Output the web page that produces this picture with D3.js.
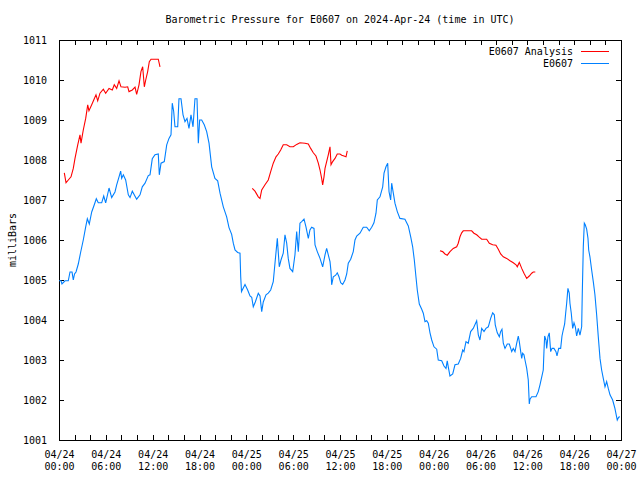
<!DOCTYPE html>
<html>
<head>
<meta charset="utf-8">
<script src="https://cdn.jsdelivr.net/npm/d3@7"></script>
<style>
  html, body { margin: 0; padding: 0; background: #fff; }
  svg { display: block; }
  text { font-family: "DejaVu Sans Mono", "Liberation Mono", monospace; font-size: 10px; fill: #000; }
</style>
</head>
<body>
<svg id="chart" width="640" height="480"></svg>
<script>
// ---- data (hours since 2024-04-24 00:00 UTC, pressure in mbar) ----
const chartTitle = "Barometric Pressure for E0607 on 2024-Apr-24 (time in UTC)";
const yLabel = "milliBars";
const seriesNames = ["E0607 Analysis", "E0607"];
const yTicks = [1001, 1002, 1003, 1004, 1005, 1006, 1007, 1008, 1009, 1010, 1011];

const obsHours = [0.00,0.26,0.38,0.77,1.19,1.41,1.67,1.83,1.99,2.18,2.47,2.78,3.11,3.42,3.63,3.88,4.19,4.52,4.78,5.03,5.47,5.73,5.98,6.41,6.75,7.17,7.39,7.69,7.90,8.03,8.24,8.54,8.88,9.10,9.39,9.95,10.38,10.67,11.02,11.44,11.66,11.95,12.30,12.72,12.85,13.07,13.49,13.80,14.09,14.35,14.51,14.69,14.86,15.21,15.37,15.63,15.89,16.14,16.40,16.65,16.91,17.17,17.42,17.68,17.85,18.02,18.28,18.61,18.92,19.22,19.56,19.98,20.33,20.63,21.05,21.48,21.78,22.12,22.33,22.55,22.89,23.19,23.28,23.38,23.83,24.17,24.47,24.69,24.89,25.15,25.53,25.75,25.97,26.17,26.52,26.81,27.12,27.45,27.67,27.97,28.22,28.44,28.73,28.95,29.17,29.37,29.59,29.94,30.23,30.45,30.66,30.87,31.09,31.39,31.64,31.94,32.15,32.37,32.67,32.80,33.09,33.44,33.78,34.08,34.29,34.50,34.72,34.85,34.93,35.14,35.45,35.65,35.87,36.09,36.34,36.64,36.86,37.06,37.37,37.70,37.92,38.14,38.56,38.98,39.42,39.75,40.06,40.35,40.61,40.78,41.12,41.47,41.64,41.89,42.11,42.28,42.49,42.62,42.83,43.04,43.34,43.68,44.32,44.75,45.06,45.31,45.52,45.73,45.90,46.16,46.47,46.67,46.89,47.11,47.31,47.53,47.75,48.04,48.39,48.59,49.03,49.32,49.58,49.74,49.87,50.09,50.44,50.73,51.15,51.46,51.72,51.88,52.14,52.43,52.74,53.07,53.51,53.72,53.93,54.15,54.45,54.70,55.00,55.30,55.56,55.77,55.89,56.15,56.41,56.58,56.75,56.92,57.14,57.43,57.69,57.87,58.00,58.20,58.42,58.64,58.84,58.97,59.15,59.28,59.40,59.57,59.70,59.92,60.12,60.25,60.34,60.56,61.11,61.40,61.62,61.84,62.04,62.13,62.22,62.39,62.48,62.64,62.81,62.99,63.16,63.41,63.67,63.80,64.02,64.27,64.44,64.60,64.78,64.91,65.04,65.20,65.37,65.46,65.63,65.81,65.98,66.15,66.32,66.53,66.74,66.96,67.04,67.17,67.30,67.42,67.60,67.77,67.86,68.02,68.24,68.45,68.66,68.88,69.09,69.31,69.52,69.73,69.95,70.16,70.37,70.59,70.93,71.22,71.52,71.70,71.87];
const obsPressure = [1004.98,1004.98,1004.9,1004.98,1004.98,1005.2,1005.2,1005.0,1005.15,1005.2,1005.4,1005.7,1006.0,1006.33,1006.53,1006.4,1006.7,1006.88,1007.03,1006.93,1006.93,1007.1,1006.93,1007.3,1007.06,1007.2,1007.38,1007.58,1007.72,1007.54,1007.63,1007.5,1007.13,1007.06,1007.22,1007.02,1007.13,1007.33,1007.42,1007.61,1007.63,1008.03,1008.13,1008.15,1007.63,1007.92,1007.96,1008.38,1008.54,1008.63,1009.42,1009.22,1008.83,1008.83,1009.53,1009.53,1009.13,1008.96,1009.04,1008.79,1009.13,1008.83,1009.53,1009.53,1008.42,1009.0,1009.0,1008.88,1008.71,1008.42,1007.83,1007.54,1007.48,1007.17,1006.83,1006.58,1006.31,1006.14,1005.92,1005.75,1005.69,1005.67,1005.08,1004.71,1004.89,1004.75,1004.6,1004.57,1004.33,1004.45,1004.67,1004.6,1004.21,1004.45,1004.63,1004.67,1004.75,1004.96,1005.42,1006.04,1005.33,1005.5,1005.67,1006.13,1005.92,1005.54,1005.29,1005.21,1005.63,1006.21,1005.71,1006.42,1006.46,1006.52,1006.33,1006.04,1006.25,1006.32,1006.29,1005.88,1005.71,1005.54,1005.33,1005.63,1005.79,1005.63,1005.46,1005.21,1004.88,1005.08,1005.12,1005.18,1005.08,1004.93,1004.89,1005.0,1005.15,1005.42,1005.52,1005.71,1006.0,1006.1,1006.17,1006.32,1006.32,1006.23,1006.32,1006.43,1006.67,1007.0,1007.08,1007.33,1007.67,1007.83,1007.92,1007.21,1007.0,1007.42,1007.17,1006.92,1006.71,1006.54,1006.52,1006.35,1006.08,1005.83,1005.5,1005.08,1004.75,1004.4,1004.27,1004.17,1003.96,1003.98,1003.92,1003.68,1003.5,1003.33,1003.27,1003.0,1002.98,1002.85,1002.79,1002.98,1002.83,1002.6,1002.65,1002.88,1002.9,1003.04,1003.25,1003.21,1003.46,1003.42,1003.71,1003.79,1003.98,1003.63,1003.5,1003.79,1003.71,1003.79,1003.83,1004.04,1004.18,1004.13,1003.88,1003.68,1003.58,1003.71,1003.77,1003.42,1003.29,1003.4,1003.4,1003.29,1003.21,1003.29,1003.21,1003.42,1003.6,1003.46,1003.21,1003.04,1003.17,1003.13,1003.0,1002.79,1002.5,1001.9,1002.02,1002.08,1002.08,1002.21,1002.38,1002.57,1002.75,1003.21,1003.6,1003.5,1003.29,1003.58,1003.68,1003.21,1003.29,1003.29,1003.21,1003.1,1003.29,1003.29,1003.6,1003.75,1003.9,1004.17,1004.42,1004.79,1004.67,1004.42,1004.17,1003.79,1003.93,1003.83,1003.6,1003.79,1003.62,1003.83,1004.67,1005.83,1006.42,1006.38,1006.27,1006.04,1005.75,1005.58,1005.25,1004.96,1004.63,1004.13,1003.58,1003.04,1002.75,1002.54,1002.33,1002.46,1002.29,1002.13,1002.0,1001.79,1001.5,1001.57,1001.58];

// analysis: null marks a gap between runs
const anaHours = [0.68,0.90,1.19,1.54,1.83,2.05,2.40,2.69,2.82,3.11,3.42,3.68,3.84,4.19,4.52,4.74,4.96,5.25,5.68,5.98,6.41,6.83,7.08,7.39,7.69,7.94,8.46,8.80,8.97,9.39,9.74,9.95,10.25,10.50,10.72,10.93,11.11,11.36,11.57,11.79,12.30,12.72,12.94,
  null,
  24.76,25.11,25.53,25.75,25.97,26.39,26.81,27.12,27.45,27.80,28.09,28.40,28.73,29.17,29.59,30.02,30.45,30.87,31.51,31.94,32.24,32.58,32.92,33.22,33.44,33.65,33.78,33.95,34.08,34.29,34.50,34.72,34.85,35.06,35.36,35.65,36.00,36.22,36.51,36.77,36.93,
  null,
  48.81,49.15,49.45,49.74,50.09,50.51,50.95,51.15,51.37,51.59,51.79,52.23,52.87,53.16,53.51,53.84,54.15,54.79,55.13,55.56,55.98,56.28,56.58,56.92,57.35,57.78,58.20,58.55,58.71,58.97,59.28,59.57,59.92,60.25,60.56,60.76,61.02];
const anaPressure = [1007.68,1007.43,1007.5,1007.58,1007.79,1008.04,1008.38,1008.63,1008.42,1008.75,1009.04,1009.38,1009.23,1009.38,1009.53,1009.63,1009.48,1009.67,1009.77,1009.67,1009.79,1009.75,1009.88,1009.79,1009.98,1009.83,1009.82,1009.83,1009.71,1009.75,1009.82,1009.64,1009.88,1010.21,1010.33,1009.83,1010.0,1010.21,1010.46,1010.52,1010.52,1010.52,1010.33,
  null,
  1007.29,1007.22,1007.08,1007.04,1007.25,1007.38,1007.5,1007.71,1007.92,1008.08,1008.15,1008.25,1008.38,1008.38,1008.33,1008.33,1008.39,1008.43,1008.42,1008.4,1008.29,1008.18,1008.1,1007.92,1007.75,1007.54,1007.38,1007.58,1007.79,1007.96,1008.13,1008.33,1007.88,1007.96,1008.04,1008.15,1008.15,1008.12,1008.1,1008.08,1008.23,
  null,
  1005.73,1005.71,1005.65,1005.62,1005.71,1005.79,1005.83,1005.92,1006.08,1006.18,1006.23,1006.23,1006.23,1006.17,1006.13,1006.07,1006.02,1006.02,1005.92,1005.88,1005.87,1005.77,1005.65,1005.58,1005.54,1005.48,1005.43,1005.38,1005.33,1005.44,1005.29,1005.17,1005.04,1005.1,1005.17,1005.2,1005.2];

const startMs = Date.UTC(2024, 3, 24, 0, 0);
const spanHours = 72;

// ---- layout ----
const svg = d3.select("#chart");
const L = 59, R = 621, T = 40, B = 440;
const HOUR = 3600e3;
const toDate = h => new Date(startMs + h * HOUR);

const x = d3.scaleUtc().domain([toDate(0), toDate(spanHours)]).range([L, R]);
const y = d3.scaleLinear().domain([1001, 1011]).range([B, T]);

const minorTicks = d3.range(0, spanHours + 0.001, 2).map(toDate);
const majorTicks = d3.range(0, spanHours + 0.001, 6).map(toDate);
const fmtDay = d3.utcFormat("%m/%d"), fmtTime = d3.utcFormat("%H:%M");
const TICK = 5;

// bottom axis (ticks inward) with two-line labels
const gB = svg.append("g").attr("transform", `translate(0,${B})`)
  .call(d3.axisBottom(x).tickValues(minorTicks).tickSizeInner(-TICK).tickSizeOuter(0).tickFormat(""));
const gBL = svg.append("g").attr("transform", `translate(0,${B})`)
  .call(d3.axisBottom(x).tickValues(majorTicks).tickSize(0).tickPadding(0).tickFormat(""));
gBL.select(".domain").remove();
gBL.selectAll(".tick").each(function(d) {
  const t = d3.select(this).append("text").attr("text-anchor", "middle");
  t.append("tspan").attr("x", 0).attr("y", 18).text(fmtDay(d));
  t.append("tspan").attr("x", 0).attr("y", 30).text(fmtTime(d));
});
// top axis
svg.append("g").attr("transform", `translate(0,${T})`)
  .call(d3.axisTop(x).tickValues(minorTicks).tickSizeInner(-TICK).tickSizeOuter(0).tickFormat(""));
// left axis
svg.append("g").attr("transform", `translate(${L},0)`)
  .call(d3.axisLeft(y).tickValues(yTicks).tickSizeInner(-TICK).tickSizeOuter(0).tickPadding(7 + TICK).tickFormat(d3.format("d")));
// right axis
svg.append("g").attr("transform", `translate(${R},0)`)
  .call(d3.axisRight(y).tickValues(yTicks).tickSizeInner(-TICK).tickSizeOuter(0).tickFormat(""));

svg.selectAll(".domain").attr("stroke", "#000").attr("shape-rendering", "crispEdges");
svg.selectAll(".tick line").attr("stroke", "#000").attr("shape-rendering", "crispEdges");
svg.selectAll(".tick text").attr("font-family", null).attr("font-size", null).attr("fill", "#000");
svg.selectAll("g").attr("font-family", null).attr("font-size", null);

// frame
svg.append("rect").attr("x", L + 0.5).attr("y", T + 0.5).attr("width", R - L).attr("height", B - T)
  .attr("fill", "none").attr("stroke", "#000").attr("shape-rendering", "crispEdges");

// title & y label
svg.append("text").attr("x", (L + R) / 2).attr("y", 23).attr("text-anchor", "middle").text(chartTitle);
svg.append("text").attr("transform", `translate(16,${(T + B) / 2}) rotate(-90)`)
  .attr("text-anchor", "middle").text(yLabel);

// series
const obs = obsHours.map((h, i) => ({ t: toDate(h), v: obsPressure[i] }));
const ana = anaHours.map((h, i) => ({ t: h == null ? null : toDate(h), v: anaPressure[i] }));

const line = d3.line().defined(d => d.t != null && d.v != null).x(d => x(d.t)).y(d => y(d.v));

svg.append("path").datum(ana).attr("d", line).attr("fill", "none")
  .attr("stroke", "#ff0000").attr("stroke-width", 1.1);
svg.append("path").datum(obs).attr("d", line).attr("fill", "none")
  .attr("stroke", "#0080ff").attr("stroke-width", 1.1);

// legend
const colors = ["#ff0000", "#0080ff"];
const lg = svg.append("g");
seriesNames.forEach((name, i) => {
  const yy = 51 + i * 12;
  lg.append("text").attr("x", 573).attr("y", yy + 3.5).attr("text-anchor", "end").text(name);
  lg.append("line").attr("x1", 581).attr("x2", 609).attr("y1", yy + 0.5).attr("y2", yy + 0.5)
    .attr("stroke", colors[i]).attr("stroke-width", 1.1).attr("shape-rendering", "crispEdges");
});
</script>
</body>
</html>
